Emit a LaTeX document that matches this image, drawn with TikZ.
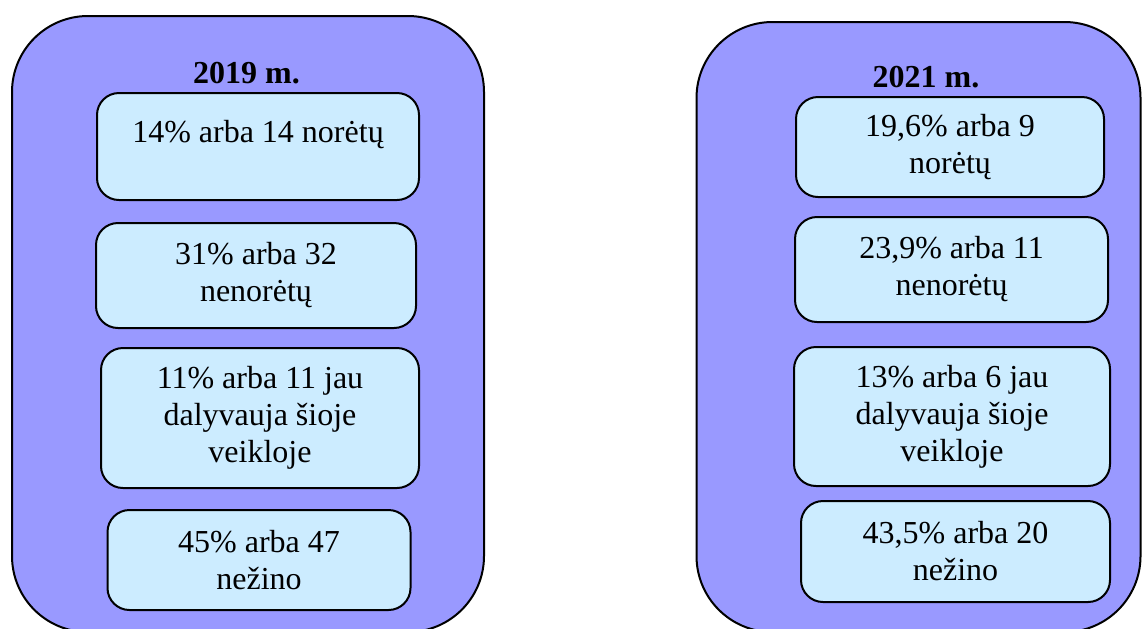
\documentclass[tikz,border=0pt]{standalone}
\usepackage{fontspec}
\setmainfont{Liberation Serif}
\usepackage{xcolor}
\usepackage{tikz}
\usetikzlibrary{positioning}

\definecolor{yearblue}{HTML}{9999FF}
\definecolor{answerblue}{HTML}{CCECFF}

\begin{document}
\begin{tikzpicture}[x=0.5pt, y=-0.5pt, font=\fontsize{16}{18.5}\selectfont]
\tikzstyle{year} = [rectangle, draw, line width=1pt, fill=yearblue, rounded corners=38pt]
\tikzstyle{answer} = [rectangle, draw, line width=1pt, fill=answerblue, rounded corners=11pt, align=center, inner sep=0pt]
\tikzstyle{title} = [font=\fontsize{16}{18.5}\selectfont\bfseries]

\useasboundingbox (0,0) rectangle (1143,628);

% 2019
\node (y2019) [year, minimum width=236pt, minimum height=308pt] at (248,324) {};
\node (t2019) [title] at (246.5,73) {2019 m.};
\node (a2019) [answer, minimum width=161pt, minimum height=53.5pt] at (258,146.5) {14\% arba 14 norėtų\\[-3pt]\mbox{}};
\node (b2019) [answer, minimum width=160pt, minimum height=52.5pt] at (256,275.5) {31\% arba 32\\nenorėtų};
\node (c2019) [answer, minimum width=159pt, minimum height=70pt] at (260,418) {11\% arba 11 jau\\dalyvauja šioje\\veikloje};
\node (d2019) [answer, minimum width=151.5pt, minimum height=50pt] at (259,560) {45\% arba 47\\nežino};

% 2021
\node (y2021) [year, minimum width=222pt, minimum height=305pt] at (918.5,327) {};
\node (t2021) [title] at (926,77) {2021 m.};
\node (a2021) [answer, minimum width=154pt, minimum height=50pt] at (950,147) {19,6\% arba 9\\norėtų};
\node (b2021) [answer, minimum width=156.5pt, minimum height=52.5pt] at (951.5,269.5) {23,9\% arba 11\\nenorėtų};
\node (c2021) [answer, minimum width=158pt, minimum height=69.5pt] at (952,416.5) {13\% arba 6 jau\\dalyvauja šioje\\veikloje};
\node (d2021) [answer, minimum width=154.5pt, minimum height=50.5pt] at (955.5,551.5) {43,5\% arba 20\\nežino};

\end{tikzpicture}
\end{document}
